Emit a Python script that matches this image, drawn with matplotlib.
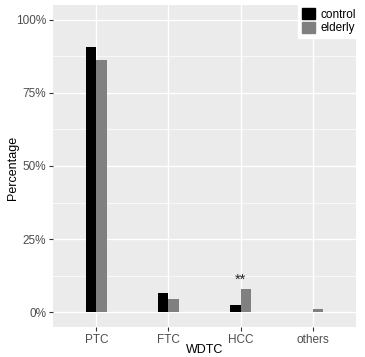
import matplotlib
matplotlib.use('Agg')
import matplotlib.pyplot as plt
import numpy as np
from matplotlib.patches import Patch

plt.rcParams['font.family'] = ['Liberation Sans', 'DejaVu Sans']

# datos
categorias = ['PTC', 'FTC', 'HCC', 'others']
control = [90.8, 6.7, 2.6, 0.0]
elderly = [86.3, 4.7, 8.1, 1.3]
marcas = ['', '', '**', '']
ticks_y = [0, 25, 50, 75, 100]

fig = plt.figure(figsize=(3.65, 3.57), dpi=100)
ax = fig.add_axes([53/365, 30/357, 303/365, 322/357])
ax.set_facecolor('#EBEBEB')

x = np.arange(1, len(categorias) + 1)
w = 0.145
ax.bar(x - w/2, control, w, color='black', linewidth=0, zorder=3)
ax.bar(x + w/2, elderly, w, color='#808080', linewidth=0, zorder=3)

for i, m in enumerate(marcas):
    if m:
        ax.text(x[i], elderly[i] + 0.8, m, ha='center', va='bottom', fontsize=10.5, color='#222222')

ax.set_xlim(0.4, 4.6)
ax.set_ylim(-5, 105)
ax.set_yticks(ticks_y)
ax.set_yticklabels([f'{t}%' for t in ticks_y])
ax.set_yticks([12.5, 37.5, 62.5, 87.5], minor=True)
ax.set_xticks(x)
ax.set_xticklabels(categorias)

ax.grid(which='major', color='white', linewidth=1.0, zorder=0)
ax.grid(which='minor', axis='y', color='white', linewidth=0.5, zorder=0)
for s in ax.spines.values():
    s.set_visible(False)
ax.tick_params(which='major', length=3, color='#333333', labelsize=8.5, labelcolor='#4D4D4D', pad=2)
ax.tick_params(which='minor', length=0)

ax.set_xlabel('WDTC', fontsize=9)
ax.set_ylabel('Percentage', fontsize=9)
ax.xaxis.set_label_coords(205/365, 13/357, transform=fig.transFigure)
ax.yaxis.set_label_coords(19/365, 189/357, transform=fig.transFigure)

leg = fig.legend(handles=[Patch(color='black', label='control'), Patch(color='#808080', label='elderly')],
                 loc='upper left', bbox_to_anchor=(298/365, 1 - 4/357), fontsize=8.5, frameon=True,
                 fancybox=False, edgecolor='white', facecolor='white', framealpha=1,
                 handlelength=1.1, handleheight=1.05, handletextpad=0.45, borderpad=0.35,
                 labelspacing=0.1, borderaxespad=0.0)

fig.savefig('out.png', dpi=100)
